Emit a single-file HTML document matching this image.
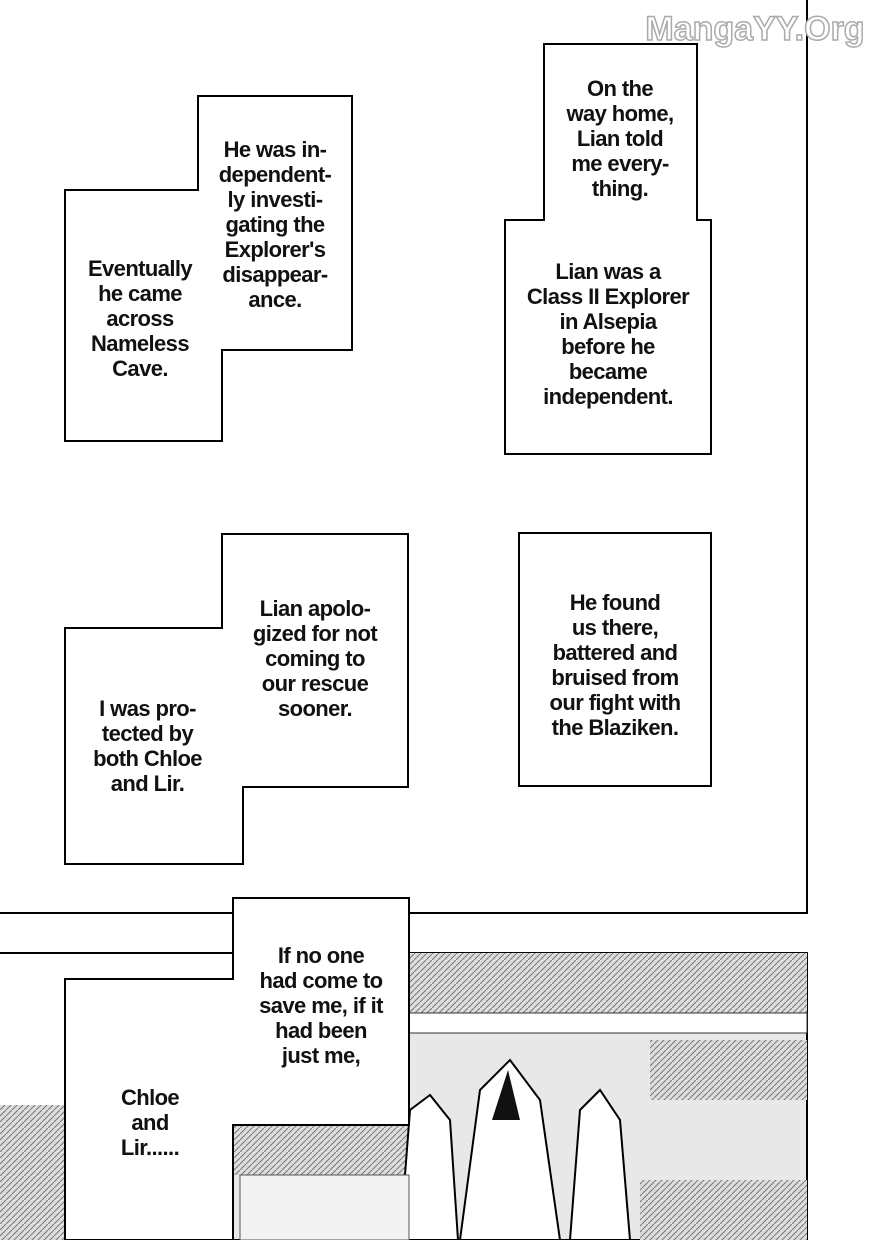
<!DOCTYPE html>
<html><head><meta charset="utf-8"><style>
html,body{margin:0;padding:0;background:#fff;}
body{width:875px;height:1240px;position:relative;overflow:hidden;font-family:"Liberation Sans",sans-serif;}
.t{position:absolute;text-align:center;font-weight:bold;font-size:22px;line-height:25px;color:#111;letter-spacing:-0.6px;}
</style></head><body>
<svg width="875" height="1240" style="position:absolute;left:0;top:0">
<defs>
<pattern id="hatch" width="6" height="6" patternUnits="userSpaceOnUse"><rect width="6" height="6" fill="#ddd"/><path d="M0 6L6 0" stroke="#777" stroke-width="1"/></pattern>
</defs>
<polyline points="807,0 807,913 0,913" fill="none" stroke="#000" stroke-width="2"/>
<line x1="0" y1="953" x2="233" y2="953" stroke="#000" stroke-width="2"/>
<rect x="409" y="953" width="398" height="287" fill="#e8e8e8" stroke="#000" stroke-width="2"/>
<rect x="409" y="953" width="398" height="60" fill="url(#hatch)"/>
<rect x="409" y="1013" width="398" height="20" fill="#fff" stroke="#333"/>
<rect x="233" y="1125" width="176" height="115" fill="#e8e8e8" stroke="#000" stroke-width="2"/>
<rect x="233" y="1125" width="176" height="50" fill="url(#hatch)"/>
<polygon points="460,1240 480,1090 510,1060 540,1100 560,1240" fill="#fff" stroke="#000" stroke-width="2"/>
<polygon points="492,1120 508,1070 520,1120" fill="#111"/>
<polygon points="570,1240 580,1110 600,1090 620,1120 630,1240" fill="#fff" stroke="#000" stroke-width="2"/>
<polygon points="400,1240 410,1110 430,1095 450,1120 458,1240" fill="#fff" stroke="#000" stroke-width="2"/>
<rect x="640" y="1180" width="167" height="60" fill="url(#hatch)"/>
<rect x="240" y="1175" width="169" height="65" fill="#f2f2f2" stroke="#555"/>
<rect x="0" y="1105" width="65" height="135" fill="url(#hatch)"/>
<rect x="650" y="1040" width="157" height="60" fill="url(#hatch)"/>
<g fill="#fff" stroke="#000" stroke-width="2">
<polygon points="198,96 352,96 352,350 222,350 222,441 65,441 65,190 198,190"/>
<polygon points="544,44 697,44 697,220 711,220 711,454 505,454 505,220 544,220"/>
<polygon points="222,534 408,534 408,787 243,787 243,864 65,864 65,628 222,628"/>
<rect x="519" y="533" width="192" height="253"/>
<polygon points="233,898 409,898 409,1125 233,1125 233,1240 65,1240 65,979 233,979"/>
</g>
<text x="755" y="40" font-family="Liberation Sans" font-weight="bold" font-size="34" fill="#fff" stroke="#aaa" stroke-width="1.5" text-anchor="middle">MangaYY.Org</text>
</svg>
<div class="t" style="left:200px;top:137px;width:150px">He was in-<br>dependent-<br>ly investi-<br>gating the<br>Explorer's<br>disappear-<br>ance.</div>
<div class="t" style="left:65px;top:256px;width:150px">Eventually<br>he came<br>across<br>Nameless<br>Cave.</div>
<div class="t" style="left:545px;top:76px;width:150px">On the<br>way home,<br>Lian told<br>me every-<br>thing.</div>
<div class="t" style="left:505px;top:259px;width:206px">Lian was a<br>Class II Explorer<br>in Alsepia<br>before he<br>became<br>independent.</div>
<div class="t" style="left:225px;top:596px;width:180px">Lian apolo-<br>gized for not<br>coming to<br>our rescue<br>sooner.</div>
<div class="t" style="left:65px;top:696px;width:165px">I was pro-<br>tected by<br>both Chloe<br>and Lir.</div>
<div class="t" style="left:519px;top:590px;width:192px">He found<br>us there,<br>battered and<br>bruised from<br>our fight with<br>the Blaziken.</div>
<div class="t" style="left:235px;top:943px;width:172px">If no one<br>had come to<br>save me, if it<br>had been<br>just me,</div>
<div class="t" style="left:80px;top:1085px;width:140px">Chloe<br>and<br>Lir......</div>
</body></html>
